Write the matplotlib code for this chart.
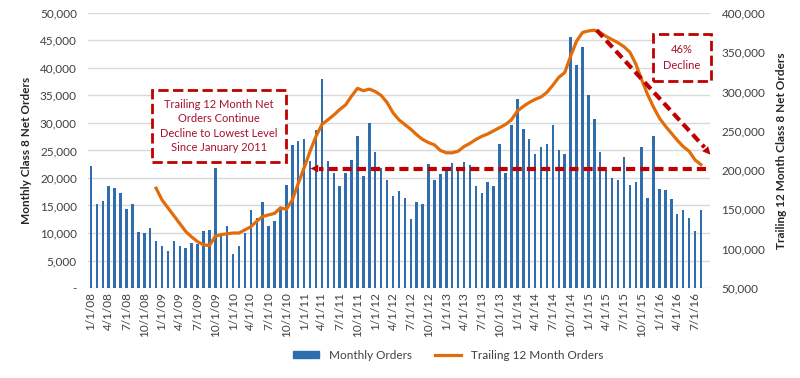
import matplotlib
matplotlib.use("Agg")
import matplotlib.pyplot as plt
from matplotlib.patches import Patch
from matplotlib.lines import Line2D
from matplotlib.ticker import FuncFormatter, MultipleLocator

plt.rcParams['font.family'] = ['Lato', 'DejaVu Sans']

# monthly class 8 net orders, Jan 2008 .. Aug 2016
monthly_orders = [
    22100, 15300, 15800, 18600, 18100, 17200, 14400, 15200, 10200, 10000, 10900, 8600,
    7700, 6700, 8600, 7600, 7300, 8200, 8000, 10400, 10600, 21800, 10000, 11300,
    6200, 7600, 10000, 14200, 12700, 15600, 11200, 12100, 14500, 18800, 25900, 26700,
    27100, 23000, 28700, 37900, 23000, 20900, 18500, 20900, 23300, 27700, 20300, 30000,
    24800, 21800, 19700, 16700, 17600, 16300, 12500, 15700, 15300, 22600, 19600, 20800,
    21300, 22700, 21400, 22900, 22300, 18500, 17300, 19200, 18600, 26100, 20900, 29700,
    34400, 28900, 27100, 24400, 25600, 26100, 29700, 25000, 24400, 45600, 40500, 43800,
    35000, 30800, 24800, 21500, 20000, 19700, 23800, 18800, 19200, 25700, 16400, 27700,
    18000, 17900, 16100, 13500, 14100, 12700, 10300, 14100,
]

# trailing 12 month orders, Dec 2008 .. Aug 2016
trailing_start = 11
trailing_orders = [
    177000, 162000, 152000, 142000, 132000, 122000, 115000, 109000, 105000, 104000,
    116000, 118000, 119000, 120000, 120000, 124000, 128000, 135000, 141000, 143000,
    145000, 152000, 150000, 162000, 183000, 203000, 224000, 243000, 258000, 264000,
    270000, 277000, 283000, 294000, 304000, 301000, 303000, 300000, 295000, 286000,
    273000, 264000, 258000, 252000, 245000, 239000, 235000, 232000, 225000, 222000,
    222000, 224000, 230000, 234000, 239000, 243000, 246000, 250000, 254000, 258000,
    264000, 275000, 281000, 286000, 290000, 293000, 299000, 308000, 318000, 324000,
    345000, 364000, 375000, 377000, 378000, 375000, 370000, 366000, 362000, 357000,
    350000, 335000, 315000, 296000, 280000, 266000, 256000, 247000, 238000, 230000,
    224000, 213000, 207000,
]

month_labels = [f"{m}/1/{y:02d}" for y in range(8, 17) for m in range(1, 13)][:len(monthly_orders)]

BAR_COLOR = '#2F6DAE'
LINE_COLOR = '#E36C0A'
RED = '#C00000'
TEXT_COLOR = '#404040'


def main():
    fig = plt.figure(figsize=(8, 3.78), dpi=100)
    ax = fig.add_axes([0.11, 0.238, 0.778, 0.728])
    ax2 = ax.twinx()

    x = list(range(len(monthly_orders)))
    ax.bar(x, monthly_orders, width=0.42, color=BAR_COLOR, zorder=2)
    x_line = list(range(trailing_start, trailing_start + len(trailing_orders)))
    ax2.plot(x_line, trailing_orders, color=LINE_COLOR, lw=2.3, zorder=3)

    ax.set_xlim(-0.5, 104.6)
    ax.set_ylim(0, 50000)
    ax2.set_ylim(50000, 400000)
    ax.yaxis.set_major_locator(MultipleLocator(5000))
    ax2.yaxis.set_major_locator(MultipleLocator(50000))
    fmt = FuncFormatter(lambda v, p: '-' if v == 0 else f"{int(v):,}")
    ax.yaxis.set_major_formatter(fmt)
    ax2.yaxis.set_major_formatter(fmt)

    ax.set_xticks(x[::3])
    ax.set_xticklabels(month_labels[::3], rotation=90, fontsize=8.5, color=TEXT_COLOR)
    ax.tick_params(axis='x', length=0, pad=3)
    ax.tick_params(axis='y', length=0, labelsize=8.5, labelcolor=TEXT_COLOR, pad=8)
    ax2.tick_params(axis='y', length=0, labelsize=8.5, labelcolor=TEXT_COLOR, pad=8)

    ax.grid(axis='y', color='#D9D9D9', lw=1)
    ax.set_axisbelow(True)
    for a in (ax, ax2):
        for s in a.spines.values():
            s.set_visible(False)

    ax.set_ylabel('Monthly Class 8 Net Orders', fontsize=8.5, fontweight='bold',
                  color='#262626', labelpad=6)
    ax2.set_ylabel('Trailing 12 Month Class 8 Net Orders', fontsize=8.5, fontweight='bold',
                   color='#262626', labelpad=8)

    # horizontal dashed arrow at the latest trailing level
    ax2.plot([103.8, 38.5], [202000, 202000], ls=(0, (2.2, 1.2)), lw=3, color=RED, zorder=4)
    ax2.annotate('', xy=(36.6, 202000), xytext=(38.6, 202000),
                 arrowprops=dict(arrowstyle='-|>', color=RED, lw=0, mutation_scale=14), zorder=4)

    # diagonal dashed arrow from peak
    ax2.plot([85.4, 103.6], [378000, 229000], ls=(0, (2.2, 1.2)), lw=3, color=RED, zorder=4,
             clip_on=False)
    ax2.annotate('', xy=(104.9, 217000), xytext=(103.4, 230000),
                 arrowprops=dict(arrowstyle='-|>', color=RED, lw=0, mutation_scale=14),
                 annotation_clip=False, zorder=4)

    box = dict(boxstyle='square,pad=0.75', fc='white', ec=RED, ls='--', lw=2)
    ax2.text(21.6, 256000, 'Trailing 12 Month Net\nOrders Continue\nDecline to Lowest Level\nSince January 2011',
             ha='center', va='center', fontsize=8, color='#A8102A', linespacing=1.4,
             bbox=box, zorder=5)
    ax2.text(99.8, 343000, '46%\nDecline', ha='center', va='center', fontsize=8,
             color='#A8102A', linespacing=1.5,
             bbox=dict(boxstyle='square,pad=0.9', fc='white', ec=RED, ls='--', lw=2), zorder=5)

    handles = [Patch(color=BAR_COLOR), Line2D([], [], color=LINE_COLOR, lw=2.3)]
    fig.legend(handles, ['Monthly Orders', 'Trailing 12 Month Orders'], loc='center',
               bbox_to_anchor=(0.56, 0.06), ncol=2, frameon=False, fontsize=8.5,
               handlelength=2.2, handleheight=0.6, columnspacing=2.0, labelcolor=TEXT_COLOR)

    fig.savefig('out.png', dpi=100)


if __name__ == "__main__":
    main()
